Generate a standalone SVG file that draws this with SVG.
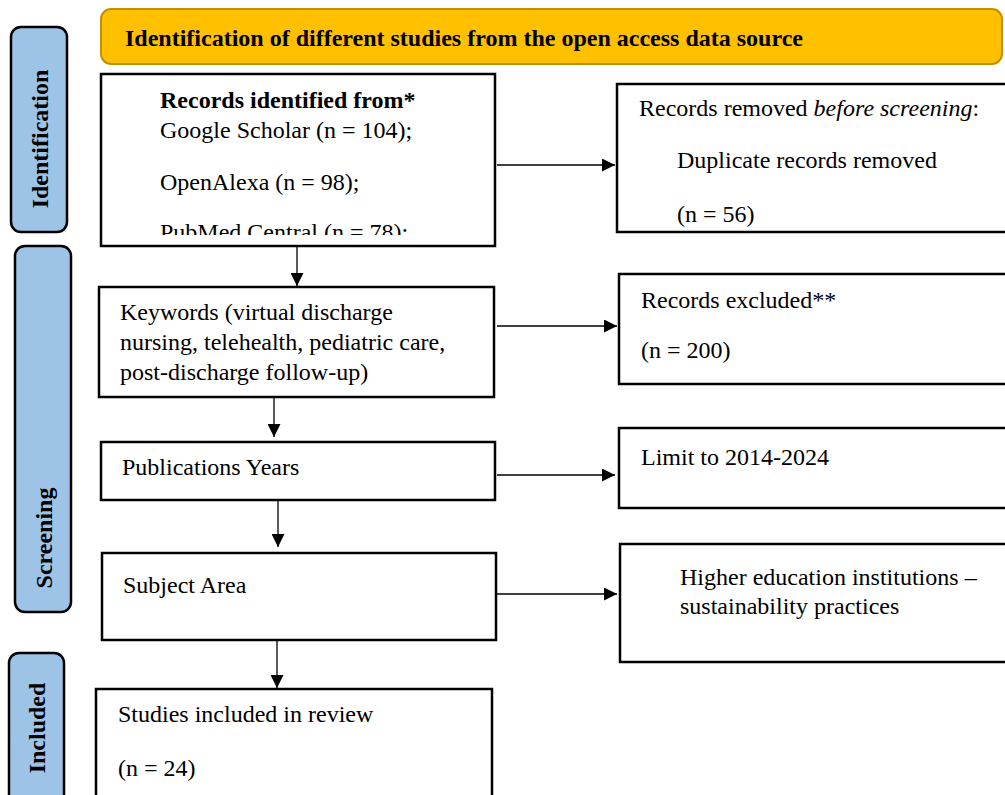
<svg xmlns="http://www.w3.org/2000/svg" width="1005" height="795" viewBox="0 0 1005 795">
<defs>
<style>
.box{fill:#fff;stroke:#000;stroke-width:2.5}
.side{fill:#9DC3E6;stroke:#000;stroke-width:2.5}
.t{font-family:"Liberation Serif","Times New Roman",serif;font-size:24px;fill:#000}
.b{font-weight:bold}
.st{font-family:"Liberation Serif","Times New Roman",serif;font-size:24px;font-weight:bold;fill:#000}
.c{stroke:#000;stroke-width:1.3;fill:none;marker-end:url(#ah)}
</style>
<marker id="ah" viewBox="0 0 10 10" refX="10" refY="5" markerWidth="13" markerHeight="13" markerUnits="userSpaceOnUse" orient="auto">
<path d="M0,0 L10,5 L0,10 z" fill="#000"/>
</marker>
<clipPath id="clip1"><rect x="101" y="74" width="394" height="161"/></clipPath>
</defs>
<rect width="1005" height="795" fill="#fff"/>

<g id="header">
<rect x="101" y="9" width="901" height="55" rx="10" fill="#FFC000" stroke="#BF9000" stroke-width="2"/>
<text class="t b" x="125" y="46">Identification of different studies from the open access data source</text>
</g>

<g id="side-identification">
<rect class="side" x="11" y="27" width="56" height="205" rx="10"/>
<text class="st" transform="translate(48,139) rotate(-90)" text-anchor="middle">Identification</text>
</g>
<g id="side-screening">
<rect class="side" x="15" y="246" width="56" height="366" rx="10"/>
<text class="st" transform="translate(52,538) rotate(-90)" text-anchor="middle">Screening</text>
</g>
<g id="side-included">
<rect class="side" x="9" y="653" width="55" height="160" rx="10"/>
<text class="st" transform="translate(45,728) rotate(-90)" text-anchor="middle">Included</text>
</g>

<g id="records-identified">
<rect class="box" x="101" y="74" width="394" height="172"/>
<g clip-path="url(#clip1)">
<text class="t b" x="160" y="108">Records identified from*</text>
<text class="t" x="160" y="138">Google Scholar (n = 104);</text>
<text class="t" x="160" y="190">OpenAlexa (n = 98);</text>
<text class="t" x="160" y="240">PubMed Central (n = 78);</text>
</g>
</g>

<g id="records-removed">
<rect class="box" x="617" y="84" width="400" height="148"/>
<text class="t" x="639" y="116">Records removed <tspan font-style="italic">before screening</tspan>:</text>
<text class="t" x="677" y="168">Duplicate records removed</text>
<text class="t" x="677" y="222">(n = 56)</text>
</g>

<g id="keywords">
<rect class="box" x="99" y="287" width="395" height="110"/>
<text class="t" x="120" y="320">Keywords (virtual discharge</text>
<text class="t" x="120" y="350">nursing, telehealth, pediatric care,</text>
<text class="t" x="120" y="380">post-discharge follow-up)</text>
</g>

<g id="records-excluded">
<rect class="box" x="619" y="274" width="400" height="110"/>
<text class="t" x="641" y="308">Records excluded**</text>
<text class="t" x="641" y="358">(n = 200)</text>
</g>

<g id="publication-years">
<rect class="box" x="101" y="442" width="394" height="58"/>
<text class="t" x="122" y="475">Publications Years</text>
</g>

<g id="limit">
<rect class="box" x="619" y="428" width="400" height="80"/>
<text class="t" x="641" y="465">Limit to 2014-2024</text>
</g>

<g id="subject-area">
<rect class="box" x="102" y="553" width="394" height="87"/>
<text class="t" x="123" y="593">Subject Area</text>
</g>

<g id="higher-ed">
<rect class="box" x="620" y="544" width="400" height="118"/>
<text class="t" x="680" y="585">Higher education institutions –</text>
<text class="t" x="680" y="614">sustainability practices</text>
</g>

<g id="studies-included">
<rect class="box" x="96" y="689" width="396" height="120"/>
<text class="t" x="118" y="722">Studies included in review</text>
<text class="t" x="118" y="776">(n = 24)</text>
</g>

<g id="connectors">
<line class="c" x1="497" y1="165" x2="615" y2="165"/>
<line class="c" x1="297" y1="247" x2="297" y2="286"/>
<line class="c" x1="497" y1="326" x2="617" y2="326"/>
<line class="c" x1="274" y1="398" x2="274" y2="437"/>
<line class="c" x1="497" y1="475" x2="615" y2="475"/>
<line class="c" x1="278" y1="501" x2="278" y2="547"/>
<line class="c" x1="497" y1="594" x2="617" y2="594"/>
<line class="c" x1="277" y1="641" x2="277" y2="688"/>
</g>
</svg>
